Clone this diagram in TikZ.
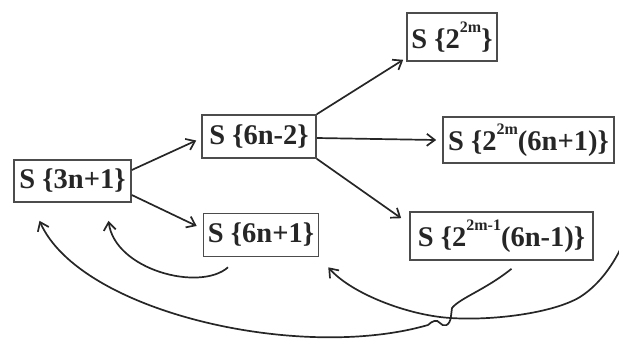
\documentclass[tikz,border=0pt]{standalone}
\usepackage{fontspec}
\setmainfont{Liberation Serif}
\usetikzlibrary{arrows.meta}
\newcommand{\supx}[1]{\raisebox{0.55em}{\fontsize{16}{16}\selectfont #1}}
\begin{document}
\begin{tikzpicture}[x=1pt,y=-1pt,
  box/.style={draw=black!70, line width=1.6pt, inner sep=1pt, fill=white,
    font=\fontsize{28.5}{28.5}\selectfont\bfseries, text=black!85},
  conn/.style={line width=1.7pt, draw=black!85,
    -{Straight Barb[length=8pt,width=12pt]}},
]
\useasboundingbox (0,0) rectangle (619,341);
\clip (0,0) rectangle (619,341);

\node[box, minimum width=117pt, minimum height=42pt] (a) at (72.5,181) {S \{3n+1\}};
\node[box, minimum width=114pt, minimum height=43pt] (b) at (259,136.5) {S \{6n-2\}};
\node[box, minimum width=115pt, minimum height=43pt] (c) at (261,235) {S \{6n+1\}};
\node[box, minimum width=90pt, minimum height=48pt] (d) at (452,37) {S \{2\supx{2m}\}};
\node[box, minimum width=171pt, minimum height=46pt] (e) at (528.5,140) {S \{2\supx{2m}(6n+1)\}};
\node[box, minimum width=183pt, minimum height=48pt] (f) at (501.5,236) {S \{2\supx{2m-1}(6n-1)\}};
\coordinate (eout) at ([xshift=12pt,yshift=-5pt]e.east);

% straight connectors
\draw[conn] ([yshift=11pt]a.east) -- ([xshift=-5pt,yshift=-4pt]b.west);
\draw[conn] ([yshift=-14pt]a.east) -- ([xshift=-6pt,yshift=9pt]c.west);
\draw[conn] (b.north east) -- ([xshift=-3pt,yshift=2pt]d.south west);
\draw[conn] ([yshift=-1.5pt]b.east) -- ([xshift=-6pt]e.west);
\draw[conn] (b.south east) -- ([xshift=-8pt,yshift=-7pt]f.north west);

% small return curve
\draw[conn] ([xshift=-33pt,yshift=-10pt]c.south)
  .. controls (200,292) and (115,270) .. ([xshift=36pt,yshift=-18pt]a.south);

% right curve from e to c (its start lies beyond the right edge)
\draw[conn] (eout)
  .. controls (652,160) and (635,262) .. (580,297)
  .. controls (550,315) and (480,322) .. (440,317)
  .. controls (400,312) and (350,292) .. ([xshift=9pt,yshift=-10pt]c.south east);

% curve from f to a, with a jump over the crossing
\draw[conn] ([xshift=10pt,yshift=-8pt]f.south)
  .. controls (485,290) and (460,298) .. (452,308)
  -- (451,316)
  .. controls (450,327) and (443,327) .. (440,323)
  .. controls (437,319) and (432,321) .. (428,325)
  .. controls (300,362) and (80,312) .. ([xshift=-33pt,yshift=-18pt]a.south);
\end{tikzpicture}
\end{document}
